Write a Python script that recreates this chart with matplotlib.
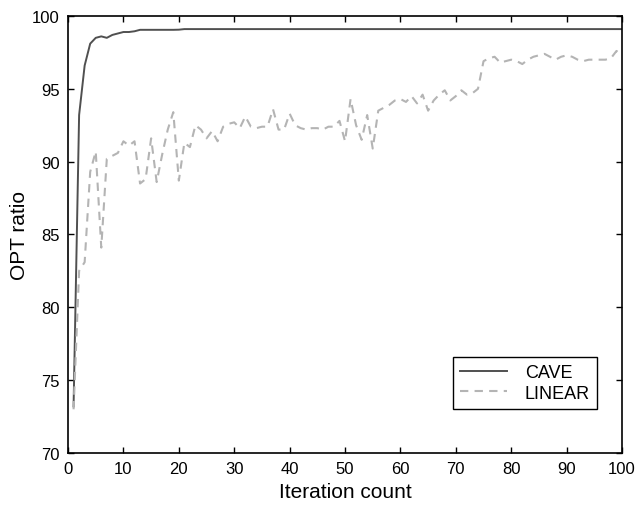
import numpy as np
import matplotlib.pyplot as plt

plt.rcParams['font.family'] = ['Liberation Sans', 'DejaVu Sans']

iterations = np.arange(1, 101)
cave = [73.2, 93.2, 96.6, 98.1, 98.5, 98.6, 98.5, 98.7, 98.8, 98.9,
        98.9, 98.95, 99.05, 99.05, 99.05, 99.05, 99.05, 99.05, 99.05, 99.06] + [99.1] * 80
linear = [73.0, 82.5, 83.1, 89.3, 90.7, 84.1, 90.2, 90.4, 90.6, 91.4,
          91.1, 91.4, 88.5, 88.8, 91.6, 88.6, 90.5, 92.2, 93.4, 88.7,
          91.3, 91.0, 92.5, 92.2, 91.6, 92.1, 91.4, 92.4, 92.6, 92.7,
          92.3, 93.1, 92.4, 92.3, 92.4, 92.4, 93.6, 92.2, 92.2, 93.3,
          92.5, 92.3, 92.2, 92.3, 92.3, 92.2, 92.4, 92.4, 92.8, 91.4,
          94.3, 92.5, 91.5, 93.2, 90.9, 93.5, 93.7, 93.9, 94.2, 94.3,
          94.1, 94.5, 94.0, 94.6, 93.5, 94.2, 94.6, 94.9, 94.2, 94.5,
          94.9, 94.6, 94.7, 95.0, 96.9, 97.1, 97.2, 96.8, 96.9, 97.0,
          96.9, 96.7, 97.0, 97.2, 97.3, 97.4, 97.2, 97.0, 97.2, 97.3,
          97.2, 97.0, 96.9, 97.0, 97.0, 97.0, 97.0, 97.1, 97.6, 97.3]

fig = plt.figure(figsize=(6.37, 5.10), dpi=100)
ax = fig.add_axes([0.1068, 0.1098, 0.8697, 0.8569])
ax.plot(iterations, cave, color='#505050', linewidth=1.4, label='CAVE')
ax.plot(iterations, linear, color='#b4b4b4', linewidth=1.5, linestyle=(0, (4, 3)), label='LINEAR')

ax.set_xlim(0, 100)
ax.set_ylim(70, 100)
ax.set_xticks(np.arange(0, 101, 10))
ax.set_yticks(np.arange(70, 101, 5))
ax.tick_params(direction='in', top=True, right=True, labelsize=12, length=4, width=1)
ax.tick_params(axis='x', pad=6)
ax.tick_params(axis='y', pad=6)
for s in ax.spines.values():
    s.set_linewidth(1.2)
ax.set_xlabel('Iteration count', fontsize=15, labelpad=4)
ax.set_ylabel('OPT ratio', fontsize=15, labelpad=2)

leg = ax.legend(loc='lower right', bbox_to_anchor=(0.955, 0.1007), borderaxespad=0,
                fontsize=13, fancybox=False, edgecolor='black', framealpha=1,
                borderpad=0.4, handlelength=2.6, handletextpad=1.0, labelspacing=0.2)
leg.get_frame().set_linewidth(1.0)

fig.savefig('out.png', dpi=100)
